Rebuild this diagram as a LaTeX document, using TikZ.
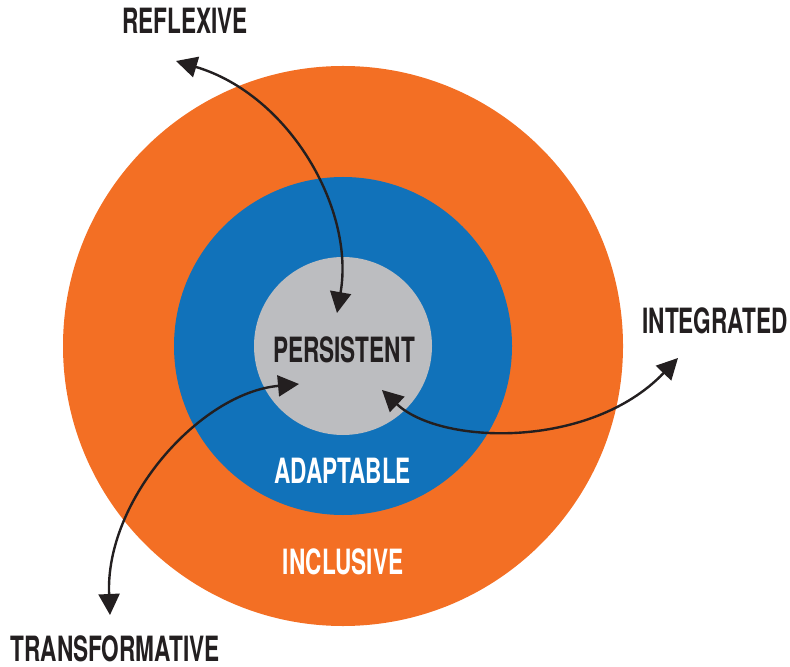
\documentclass[tikz,border=0pt]{standalone}
\usepackage{fontspec}
\newfontfamily\dinfont[FakeStretch=0.65]{TeX Gyre Heros}
\usetikzlibrary{arrows.meta}
\definecolor{orng}{HTML}{F36F24}
\definecolor{blu}{HTML}{1172BA}
\definecolor{gry}{HTML}{BCBDC0}
\definecolor{ink}{HTML}{231F20}
\begin{document}
\begin{tikzpicture}[x=0.5pt,y=-0.5pt,
  ring/.style={circle, inner sep=0pt, draw=none},
  lbl/.style={font=\dinfont\bfseries\fontsize{17.4}{20}\selectfont, text=ink, inner sep=0pt},
  wlbl/.style={lbl, text=white},
  arr/.style={draw=ink, line width=1.2pt, {Triangle[length=10.5pt,width=10.5pt]}-{Triangle[length=10.5pt,width=10.5pt]}},
]
\useasboundingbox (0,0) rectangle (790,667);
\node[ring, fill=orng, minimum size=280pt] (outer) at (343,346) {};
\node[ring, fill=blu, minimum size=169pt] (mid) at (343,346) {};
\node[ring, fill=gry, minimum size=89pt] (inner) at (343,346) {};

\node[lbl] (persistent) at (344,349.5) {PERSISTENT};
\node[wlbl] (adaptable) at (342.5,470.6) {ADAPTABLE};
\node[wlbl] (inclusive) at (343,562) {INCLUSIVE};
\node[lbl] (reflexive) at (185,21) {REFLEXIVE};
\node[lbl] (integrated) at (715,320.5) {INTEGRATED};
\node[lbl] (transformative) at (115,649) {TRANSFORMATIVE};

\coordinate (reflOut) at (176,61);
\coordinate (reflIn) at (337,313);
\coordinate (intOut) at (678,358);
\coordinate (intIn) at (382,390);
\coordinate (trOut) at (110,615);
\coordinate (trIn) at (299,384);

\draw[arr] (reflOut) .. controls (290,95) and (355,210) .. (reflIn);
\draw[arr] (intIn) .. controls (440,445) and (590,450) .. (intOut);
\draw[arr] (trIn) .. controls (200,393) and (105,500) .. (trOut);
\end{tikzpicture}
\end{document}
